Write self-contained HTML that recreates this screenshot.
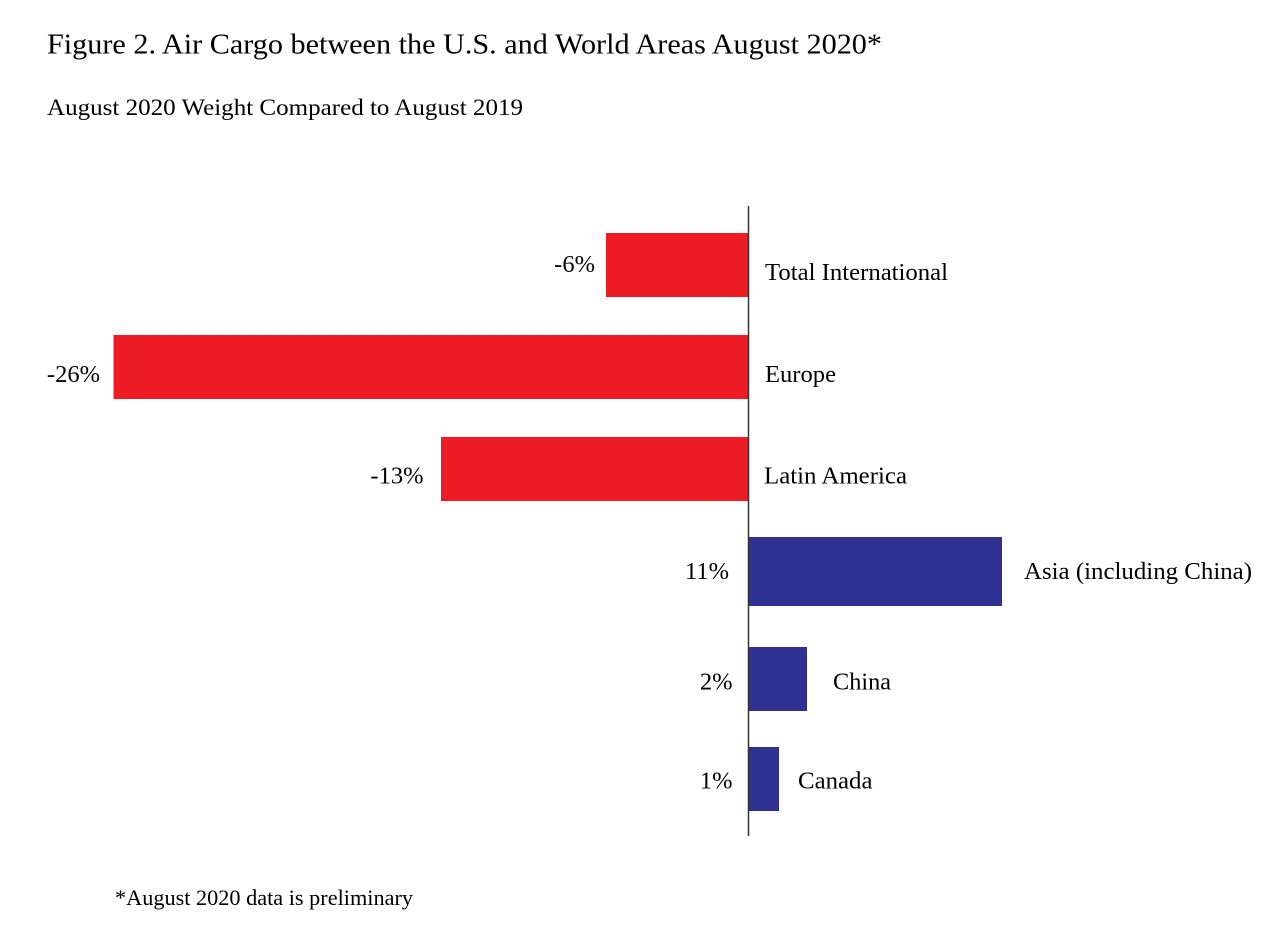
<!DOCTYPE html>
<html>
<head>
<meta charset="utf-8">
<style>
  html, body { margin: 0; padding: 0; background: #ffffff; }
  svg { display: block; }
  text { font-family: "Liberation Serif", "Times New Roman", serif; fill: #000000; }
</style>
</head>
<body>
<svg width="1280" height="940" viewBox="0 0 1280 940" xmlns="http://www.w3.org/2000/svg">
  <rect x="0" y="0" width="1280" height="940" fill="#ffffff"/>

  <!-- Title & subtitle -->
  <text x="47" y="53.5" font-size="28" textLength="835" lengthAdjust="spacingAndGlyphs">Figure 2. Air Cargo between the U.S. and World Areas August 2020*</text>
  <text x="47" y="115" font-size="23.5" textLength="476" lengthAdjust="spacingAndGlyphs">August 2020 Weight Compared to August 2019</text>

  <!-- Bars -->
  <rect x="606" y="233" width="142.5" height="64" fill="#ED1C24"/>
  <rect x="113.5" y="335" width="635" height="64" fill="#ED1C24"/>
  <rect x="441" y="437" width="307.5" height="64" fill="#ED1C24"/>
  <rect x="748.5" y="537" width="253.5" height="69" fill="#2E3192"/>
  <rect x="748.5" y="647" width="58.5" height="64" fill="#2E3192"/>
  <rect x="748.5" y="747" width="30.5" height="64" fill="#2E3192"/>

  <!-- Axis -->
  <line x1="748.5" y1="206" x2="748.5" y2="836" stroke="#333333" stroke-width="1.5"/>

  <!-- Value labels -->
  <g font-size="24.5">
    <text x="595" y="272" text-anchor="end">-6%</text>
    <text x="100" y="382" text-anchor="end">-26%</text>
    <text x="423.5" y="483.5" text-anchor="end">-13%</text>
    <text x="729" y="579" text-anchor="end">11%</text>
    <text x="732.5" y="689.5" text-anchor="end">2%</text>
    <text x="732.5" y="788.5" text-anchor="end">1%</text>
  </g>

  <!-- Category labels -->
  <g font-size="24.5">
    <text x="765" y="280" textLength="183" lengthAdjust="spacingAndGlyphs">Total International</text>
    <text x="765" y="382" textLength="71" lengthAdjust="spacingAndGlyphs">Europe</text>
    <text x="764" y="483.5" textLength="143" lengthAdjust="spacingAndGlyphs">Latin America</text>
    <text x="1024" y="579" textLength="228" lengthAdjust="spacingAndGlyphs">Asia (including China)</text>
    <text x="833" y="689.5" textLength="58" lengthAdjust="spacingAndGlyphs">China</text>
    <text x="798" y="788.5" textLength="74.5" lengthAdjust="spacingAndGlyphs">Canada</text>
  </g>

  <!-- Footnote -->
  <text x="115" y="905" font-size="22.5" textLength="298" lengthAdjust="spacingAndGlyphs">*August 2020 data is preliminary</text>
</svg>
</body>
</html>
